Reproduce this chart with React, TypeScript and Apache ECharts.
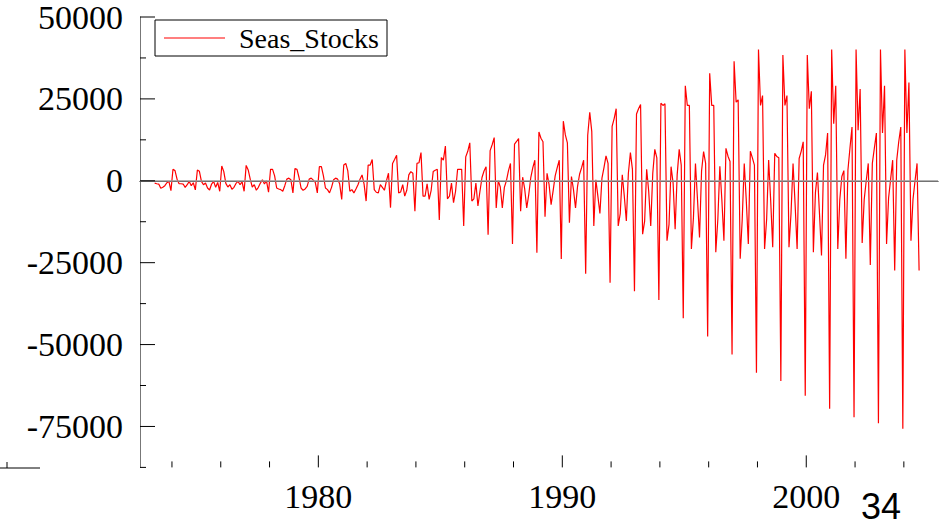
import React, { useEffect, useRef } from "react";
import * as echarts from "echarts";

const seriesName = "Seas_Stocks";
const startYear = 1973;
const startMonth = 4; // first observation: April 1973, monthly

const stocks1973to1979 = [
  -700, -900, -1000, -2300, -2000, -1500, -600, -200, -3000,
  3500, 3100, 500, -900, -900, -1000, -2000, -1200, -200, -1500, -600, -2800,
  3300, 2900, -200, -1200, -700, -2200, -2800, -1000, -200, -2000, -500, -3200,
  4500, 2800, -800, -1900, -1200, -2600, -2000, -800, -200, -1200, -300, -3200,
  4700, 3300, 500, -1900, -1200, -2900, -2000, -700, 300, -1000, 0, -3500,
  3500, 3500, 1500, -2200, -2500, -2700, -3200, -1500, 500, 800, 300, -3700,
  3700, 3500, 1000, -2200, -2900, -2500, -1700, 500, 800, 200, -500, -3700,
];

const stocks1980s = [
  4300, 4300, 1500, -2200, -2700, -3700, -2000, 300, 800, 500, -1000, -5700,
  4800, 5300, 3000, -3200, -2700, -3700, -2500, -1200, 500, 1800, -1000, -6200,
  4800, 4800, 6500, -2700, -3500, -3700, -1200, -2000, -2900, 0, 2300, -8200,
  5300, 6500, 7800, -3700, -3400, -1200, -4700, -2900, 1800, 2800, 2300, -9300,
  5300, 5500, 8600, -4700, -4700, -900, -5700, -2900, 2800, 3200, 3500, -12000,
  7100, 6300, 10600, -5500, -4700, -700, -6700, -3200, 3500, 3500, 3500, -13800,
  7300, 9000, 11600, -6200, -5500, -700, -7700, -3200, 1000, 3000, 4300, -16500,
  9200, 11000, 13200, -8300, 0, -1900, -8300, -2000, 0, 3000, 5300, -19300,
  11200, 12000, 12900, -9300, 1100, -2500, -8300, -4200, 1000, 4000, 6300, -22000,
  14900, 13000, 11900, -11000, 2300, -1200, -7300, -3000, 1500, 4000, 6300, -23900,
];

const stocks1990s = [
  18200, 14000, 11600, -12800, 1300, -2700, -8300, -1700, 2000, 4000, 6300, -28400,
  13900, 20900, 15000, -13800, 300, -4700, -10000, 800, 4000, 7600, 5300, -31100,
  16600, 19000, 22000, -13800, -10000, 1800, -4700, -12300, 2300, 8600, 3500, -33700,
  20400, 22000, 23300, -16300, -12300, 3500, -3200, -13800, 2300, 9600, 7000, -36400,
  23700, 23000, 23500, -18300, -13300, 4300, -700, -14800, 1800, 9600, 4800, -42000,
  29000, 23000, 23000, -20800, -11300, 5300, -5700, -17300, 3000, 8900, 5300, -47500,
  32800, 23000, 23000, -21800, -11800, 4400, -6000, -18300, 9900, 7500, 5900, -53000,
  36500, 24000, 24700, -23800, -11800, 5300, -6000, -19300, 9000, 7000, 4800, -58600,
  40100, 23000, 26000, -20800, -11800, 6300, -6000, -20300, 8400, 7400, 7000, -61100,
  38400, 23000, 26000, -20300, -10000, 5300, -7000, -20800, 6800, 9000, 11900, -65600,
];

const stocks2000s = [
  38400, 22000, 27300, -21800, -3700, 2500, -10000, -22800, 4800, 7900, 14600, -69600,
  40100, 17400, 29000, -20800, -5700, 1300, 3100, -23800, 3300, 10000, 16400, -72200,
  40100, 15400, 28000, -19000, -5700, 0, 5300, -25700, 5300, 10000, 14600, -74000,
  40100, 14600, 29000, -19300, -5200, 500, 6300, -27400, 6300, 12000, 16400, -75700,
  40100, 14600, 30000, -18300, -5700, 0, 5300, -27400,
];

const yMajorTicks = [-75000, -50000, -25000, 0, 25000, 50000];
const yMinorTicks = [-87500, -62500, -37500, -12500, 12500, 37500];
const xMajorTicks = [1980, 1990, 2000];
const xMinorTicks = [1974, 1976, 1978, 1982, 1984, 1986, 1988, 1992, 1994, 1996, 1998, 2002, 2004];
const xRange = [1972.69, 2005.4];
const yRange = [-87500, 50000];
const slideNumber = "34";

const SERIF = "Liberation Serif";
const SANS = "Liberation Sans";

function yTickSeries(values: number[], len: number) {
  return {
    type: "custom",
    silent: true,
    clip: false,
    z: 5,
    data: values.map((v) => [xRange[0], v]),
    renderItem: (_p: any, api: any) => {
      const pt = api.coord([api.value(0), api.value(1)]);
      return {
        type: "line",
        shape: { x1: pt[0], y1: pt[1], x2: pt[0] + len, y2: pt[1] },
        style: { stroke: "#000", lineWidth: 1 },
      };
    },
  };
}

function xTickSeries(values: number[], len: number) {
  return {
    type: "custom",
    silent: true,
    clip: false,
    z: 5,
    data: values.map((v) => [v, yRange[0]]),
    renderItem: (_p: any, api: any) => {
      const pt = api.coord([api.value(0), api.value(1)]);
      return {
        type: "line",
        shape: { x1: pt[0], y1: pt[1], x2: pt[0], y2: pt[1] - len },
        style: { stroke: "#000", lineWidth: 1 },
      };
    },
  };
}

export default function App() {
  const ref = useRef<HTMLDivElement>(null);

  useEffect(() => {
    if (!ref.current) return;
    const chart = echarts.init(ref.current, null, { renderer: "svg" });

    const values = [...stocks1973to1979, ...stocks1980s, ...stocks1990s, ...stocks2000s];
    const data = values.map((v, i) => [startYear + (startMonth - 1 + i + 0.5) / 12, v]);

    chart.setOption({
      animation: false,
      backgroundColor: "#ffffff",
      grid: { left: 140, right: 6, top: 12, height: 455.4 },
      legend: {
        data: [seriesName],
        left: 155,
        top: 20,
        icon: "rect",
        itemWidth: 61,
        itemHeight: 1.2,
        padding: [4, 8, 4, 9],
        borderColor: "#000",
        borderWidth: 1,
        backgroundColor: "#fff",
        textStyle: { fontFamily: SERIF, fontSize: 28, color: "#000", padding: [0, 0, 0, 9] },
      },
      xAxis: {
        type: "value",
        min: xRange[0],
        max: xRange[1],
        position: "bottom",
        splitLine: { show: false },
        axisLine: { show: true, lineStyle: { color: "#000", width: 1 } },
        axisTick: { show: false },
        axisLabel: {
          customValues: xMajorTicks,
          formatter: (v: number) => String(v),
          fontFamily: SERIF,
          fontSize: 34,
          color: "#000",
          margin: 12,
        },
      },
      yAxis: {
        type: "value",
        min: yRange[0],
        max: yRange[1],
        position: "left",
        splitLine: { show: false },
        axisLine: { show: true, lineStyle: { color: "#777", width: 1 } },
        axisTick: { show: false },
        axisLabel: {
          customValues: yMajorTicks,
          formatter: (v: number) => String(v),
          fontFamily: SERIF,
          fontSize: 34,
          color: "#000",
          margin: 17,
        },
      },
      series: [
        {
          type: "line",
          name: "zero",
          data: [],
          z: 1,
          markLine: {
            silent: true,
            symbol: "none",
            label: { show: false },
            lineStyle: { color: "#999", width: 1.5, type: "solid" },
            data: [{ yAxis: 0 }],
          },
        },
        {
          type: "line",
          name: seriesName,
          data,
          z: 2,
          symbol: "none",
          showSymbol: false,
          lineStyle: { color: "#ff0000", width: 1.2 },
          itemStyle: { color: "#ff0000" },
        },
        yTickSeries(yMajorTicks, 15),
        yTickSeries(yMinorTicks, 6),
        xTickSeries(xMajorTicks, 12),
        xTickSeries(xMinorTicks, 6),
      ],
      graphic: [
        {
          type: "text",
          left: 861,
          top: 488,
          style: { text: slideNumber, fontFamily: SANS, fontSize: 36, fill: "#000" },
        },
        { type: "line", shape: { x1: 0, y1: 468, x2: 40, y2: 468 }, style: { stroke: "#000", lineWidth: 1 } },
        { type: "line", shape: { x1: 7, y1: 462, x2: 7, y2: 468 }, style: { stroke: "#000", lineWidth: 1 } },
      ],
    });

    return () => chart.dispose();
  }, []);

  return (
    <div
      ref={ref}
      style={{ position: "absolute", left: 0, top: 0, width: 944, height: 525 }}
    />
  );
}
